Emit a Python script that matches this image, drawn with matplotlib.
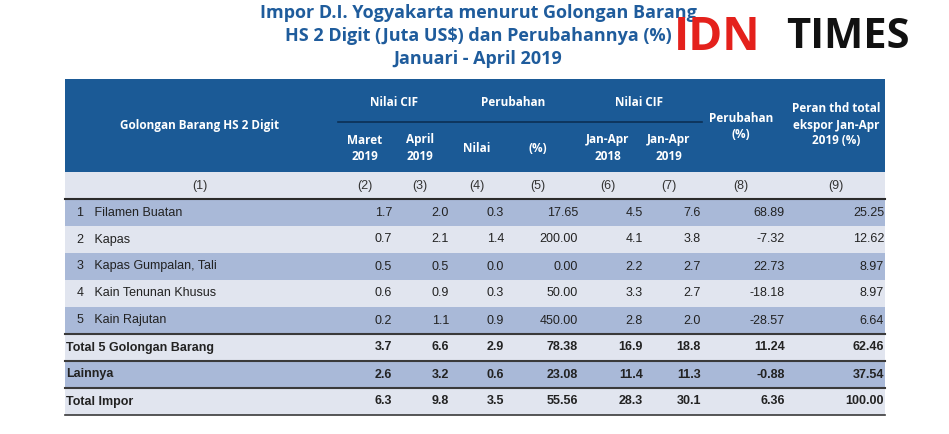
import matplotlib
matplotlib.use("Agg")
import matplotlib.pyplot as plt
from matplotlib.patches import Rectangle

categories = ["1   Filamen Buatan", "2   Kapas", "3   Kapas Gumpalan, Tali",
              "4   Kain Tenunan Khusus", "5   Kain Rajutan",
              "Total 5 Golongan Barang", "Lainnya", "Total Impor"]
maret_2019 = ["1.7", "0.7", "0.5", "0.6", "0.2", "3.7", "2.6", "6.3"]
april_2019 = ["2.0", "2.1", "0.5", "0.9", "1.1", "6.6", "3.2", "9.8"]
perubahan_nilai = ["0.3", "1.4", "0.0", "0.3", "0.9", "2.9", "0.6", "3.5"]
perubahan_pct = ["17.65", "200.00", "0.00", "50.00", "450.00", "78.38", "23.08", "55.56"]
janapr_2018 = ["4.5", "4.1", "2.2", "3.3", "2.8", "16.9", "11.4", "28.3"]
janapr_2019 = ["7.6", "3.8", "2.7", "2.7", "2.0", "18.8", "11.3", "30.1"]
perubahan_ytd = ["68.89", "-7.32", "22.73", "-18.18", "-28.57", "11.24", "-0.88", "6.36"]
peran = ["25.25", "12.62", "8.97", "8.97", "6.64", "62.46", "37.54", "100.00"]
col_numbers = ["(1)", "(2)", "(3)", "(4)", "(5)", "(6)", "(7)", "(8)", "(9)"]

HEAD = "#1b5a96"
BLUE = "#a9b9d8"
LIGHT = "#e1e5ef"
TITLE = "#1f5c9c"
FONT = "Liberation Sans"

fig = plt.figure(figsize=(9.49, 4.34), dpi=100)
ax = fig.add_axes([0, 0, 1, 1])
ax.set_xlim(0, 949); ax.set_ylim(434, 0); ax.axis("off")

L, R = 65, 885
rights = [None, 392, 449, 504, 578, 643, 701, 785, 884]

for i, t in enumerate(["Impor D.I. Yogyakarta menurut Golongan Barang",
                       "HS 2 Digit (Juta US$) dan Perubahannya (%)",
                       "Januari - April 2019"]):
    ax.text(478, 13 + i * 23, t, ha="center", va="center", color=TITLE,
            fontsize=13, fontweight="bold", family="Open Sans")
ax.text(674, 38, "IDN", ha="left", va="center", color="#e4211c", fontsize=33,
        fontweight="bold", family="Open Sans")
ax.text(786, 38, "TIMES", ha="left", va="center", color="#111111", fontsize=30,
        fontweight="bold", family="Open Sans")

ax.add_patch(Rectangle((L, 79), R - L, 93, color=HEAD, lw=0))
hk = dict(color="white", fontsize=8.5, fontweight="bold", family="Open Sans", ha="center", va="center")
ax.text(200, 126, "Golongan Barang HS 2 Digit", **hk)
ax.text((338 + 450) / 2, 102, "Nilai CIF", **hk)
ax.text((450 + 577) / 2, 102, "Perubahan", **hk)
ax.text((577 + 702) / 2, 102, "Nilai CIF", **hk)
ax.plot([338, 702], [122, 122], color="#0c2f55", lw=1.2)
ax.text(365, 148, "Maret\n2019", linespacing=1.3, **hk)
ax.text(420, 148, "April\n2019", linespacing=1.3, **hk)
ax.text(477, 148, "Nilai", **hk)
ax.text(538, 148, "(%)", **hk)
ax.text(608, 148, "Jan-Apr\n2018", linespacing=1.3, **hk)
ax.text(669, 148, "Jan-Apr\n2019", linespacing=1.3, **hk)
ax.text(741, 127, "Perubahan\n(%)", linespacing=1.3, **hk)
ax.text(836, 125, "Peran thd total\nekspor Jan-Apr\n2019 (%)", linespacing=1.3, **hk)

ax.add_patch(Rectangle((L, 172), R - L, 27, color=LIGHT, lw=0))
centers = [200, 365, 420, 477, 538, 608, 669, 741, 836]
for c, t in zip(centers, col_numbers):
    ax.text(c, 186, t, ha="center", va="center", fontsize=9, family=FONT, color="#333333")
ax.plot([L, R], [199, 199], color="#2b2b2b", lw=1.5)

tops = [199, 226, 253, 280, 307, 334, 361, 388, 415]
cols = [maret_2019, april_2019, perubahan_nilai, perubahan_pct,
        janapr_2018, janapr_2019, perubahan_ytd, peran]
for i, cat in enumerate(categories):
    y0, y1 = tops[i], tops[i + 1]
    color = BLUE if i in (0, 2, 4, 6) else LIGHT
    ax.add_patch(Rectangle((L, y0), R - L, y1 - y0, color=color, lw=0))
    yc = (y0 + y1) / 2
    bold = i >= 5
    fw = "bold" if bold else "normal"
    ax.text(L + (1 if bold else 12), yc, cat, ha="left", va="center", fontsize=9,
            family=FONT, fontweight=fw, color="#222222")
    for j, col in enumerate(cols):
        ax.text(rights[j + 1], yc, col[i], ha="right", va="center", fontsize=9,
                family=FONT, fontweight=fw, color="#222222")
    if i >= 4:
        ax.plot([L, R], [y1, y1], color="#3a3a3a", lw=1.5 if i < 7 else 1.2)

fig.savefig("out.png", dpi=100)
